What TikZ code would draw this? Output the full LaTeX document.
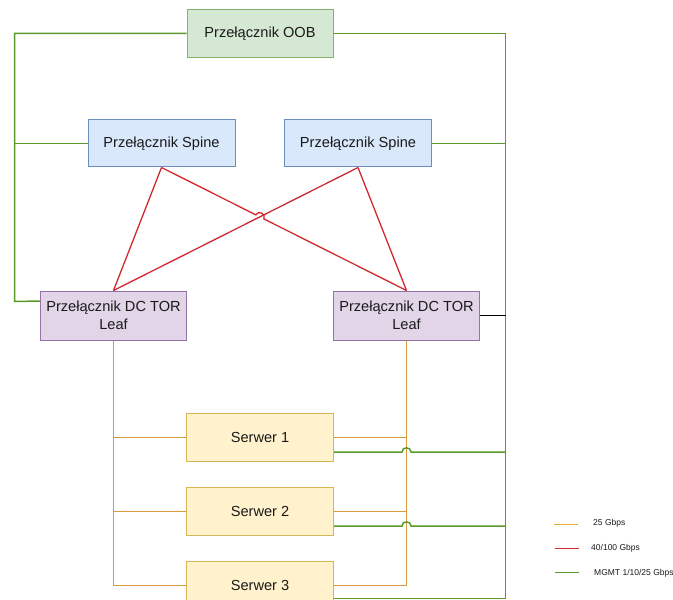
\documentclass[tikz,border=0pt]{standalone}
\usepackage{fontspec}
\setmainfont{Liberation Sans}
\usetikzlibrary{calc,intersections}
\definecolor{oobfill}{HTML}{D5E8D4}\definecolor{oobline}{HTML}{82B366}
\definecolor{spinefill}{HTML}{DAE8FC}\definecolor{spineline}{HTML}{6C8EBF}
\definecolor{leaffill}{HTML}{E1D5E7}\definecolor{leafline}{HTML}{9673A6}
\definecolor{srvfill}{HTML}{FFF2CC}\definecolor{srvline}{HTML}{D6B656}
\definecolor{wireorange}{HTML}{D99A3C}
\definecolor{wirered}{HTML}{D0282E}
\definecolor{wiregreen}{HTML}{5A9A2A}
\definecolor{legorange}{HTML}{E6B035}
\definecolor{txt}{HTML}{1A1A1A}
\begin{document}
\begin{tikzpicture}[x=1bp,y=1bp,
  box/.style={draw, line width=1bp, inner sep=0pt, align=center, text=txt,
    font=\fontsize{14.6bp}{17.5bp}\selectfont},
  oobbox/.style={box, fill=oobfill, draw=oobline, minimum width=146bp, minimum height=48bp},
  spinebox/.style={box, fill=spinefill, draw=spineline, minimum width=147bp, minimum height=47bp},
  leafbox/.style={box, fill=leaffill, draw=leafline, minimum width=146bp, minimum height=49bp},
  srvbox/.style={box, fill=srvfill, draw=srvline, minimum width=147bp, minimum height=48bp},
  owire/.style={draw=wireorange, line width=1.5bp},
  rwire/.style={draw=wirered, line width=1.3bp},
  gwire/.style={draw=wiregreen, line width=1.5bp},
  kwire/.style={draw=black, line width=1.2bp},
  legtext/.style={anchor=west, inner sep=0pt, text=txt, font=\fontsize{8.5bp}{10bp}\selectfont},
  jump/.style={bend left=90, looseness=1.6}
]
\useasboundingbox (0,0) rectangle (673,-600);
\clip (0,0) rectangle (673,-600);

% bus corner coordinates
\coordinate (gTL) at (14.5,-33.5);
\coordinate (gTR) at (505.5,-33.5);
\coordinate (gBR) at (505.5,-598.5);

% Nodes
\node[oobbox] (oob) at (260,-33.5) {Przełącznik OOB};
\node[spinebox] (s1) at (161.5,-143.5) {Przełącznik Spine};
\node[spinebox] (s2) at (358,-143.5) {Przełącznik Spine};
\node[leafbox] (l1) at (113.5,-315.5) {Przełącznik DC TOR\\Leaf};
\node[leafbox] (l2) at (406.5,-315.5) {Przełącznik DC TOR\\Leaf};
\node[srvbox] (v1) at (260,-437.5) {Serwer 1};
\node[srvbox] (v2) at (260,-511.5) {Serwer 2};
\node[srvbox] (v3) at (260,-585.5) {Serwer 3};

% Green management wires
\draw[gwire] (oob.west) -- (gTL) -- (gTL |- 0,-301.5) -- ($(l1.north west)+(0,-10.5)$);
\draw[gwire] (s1.west) -- (gTL |- s1.west);
\draw[gwire] (oob.east) -- (gTR) -- (gBR) -- (gBR -| v3.east);
\draw[gwire] (s2.east) -- (gTR |- s2.east);
\draw[kwire] (l2.east) -- (gTR |- l2.east);

% Orange 25G wires
\draw[owire] (l1.south) -- (l1.south |- v3.west) -- (v3.west);
\draw[owire] (l1.south |- v1.west) -- (v1.west);
\draw[owire] (l1.south |- v2.west) -- (v2.west);
\draw[owire] (l2.south) -- (l2.south |- v3.east) -- (v3.east);
\draw[owire] (v1.east) -- (l2.south |- v1.east);
\draw[owire] (v2.east) -- (l2.south |- v2.east);

% Green server wires with jumps over the orange bus
\coordinate (j1) at ($(l2.south |- v1.south)+(0,10)$);
\coordinate (j2) at ($(l2.south |- v2.south)+(0,10)$);
\draw[gwire] ($(v1.south east)+(0,10)$) -- ($(j1)+(-4.5,0)$) to[jump] ($(j1)+(4.5,0)$) -- (gTR |- j1);
\draw[gwire] ($(v2.south east)+(0,10)$) -- ($(j2)+(-4.5,0)$) to[jump] ($(j2)+(4.5,0)$) -- (gTR |- j2);

% Red 40/100G wires
\path[name path=rb] (s2.south) -- (l1.north);
\path[name path=ra] (s1.south) -- (l2.north);
\path[name intersections={of=ra and rb, by=X}];
\draw[rwire] (s1.south) -- (l1.north);
\draw[rwire] (s2.south) -- (l2.north);
\draw[rwire] (s2.south) -- (l1.north);
\draw[rwire] (s1.south) -- ($(X)!4.5bp!(s1.south)$) to[jump] ($(X)!4.5bp!(l2.north)$) -- (l2.north);

% Legend
\coordinate (a1) at (554,-524.5); \coordinate (b1) at (578,-524.5);
\coordinate (a2) at (555,-548.5); \coordinate (b2) at (579,-548.5);
\coordinate (a3) at (555,-572.5); \coordinate (b3) at (579,-572.5);
\draw[draw=legorange, line width=1.4bp] (a1) -- (b1);
\draw[draw=wirered, line width=1.4bp] (a2) -- (b2);
\draw[draw=wiregreen, line width=1.4bp] (a3) -- (b3);
\node[legtext] (t1) at (593,-523.5) {25 Gbps};
\node[legtext] (t2) at (591,-548.5) {40/100 Gbps};
\node[legtext] (t3) at (594,-573) {MGMT 1/10/25 Gbps};
\end{tikzpicture}
\end{document}
